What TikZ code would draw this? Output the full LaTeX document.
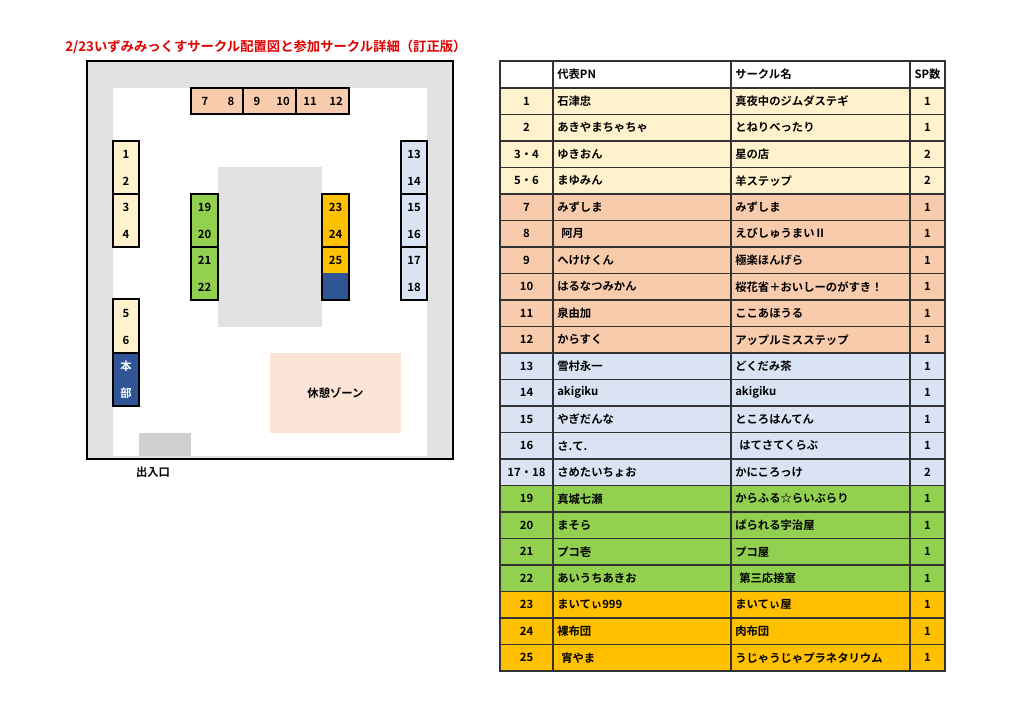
\documentclass[tikz,border=0pt]{standalone}
\usepackage{fontspec}
\setmainfont{Noto Sans CJK JP}[BoldFont={* Bold}]
\definecolor{cream}{HTML}{FFF2CC}
\definecolor{salmon}{HTML}{F8CBAD}
\definecolor{lav}{HTML}{DAE3F3}
\definecolor{grn}{HTML}{92D050}
\definecolor{org}{HTML}{FFC000}
\definecolor{navy}{HTML}{2F5597}
\definecolor{lgray}{HTML}{E2E2E2}
\definecolor{mgray}{HTML}{D0D0D0}
\definecolor{rest}{HTML}{FCE4D6}
\definecolor{ttl}{HTML}{E00000}
\begin{document}
\begin{tikzpicture}[x=0.75pt,y=-0.75pt,
  txt/.style={font=\bfseries\fontsize{8.5}{9}\selectfont,inner sep=0pt},
  box/.style={draw=black,line width=1.3pt},
  grid/.style={draw=black!80,line width=1pt}]
\useasboundingbox (0,0) rectangle (1024,720);
\fill[white] (0,0) rectangle (1024,720);
% title
\node[anchor=west,text=ttl,font=\bfseries\fontsize{10}{10}\selectfont,inner sep=0pt] (title) at (65,47) {2/23いずみみっくすサークル配置図と参加サークル詳細（訂正版）};
% map
\fill[lgray] (87,61) rectangle (453,459);
\fill[white] (113,88) rectangle (427,456);
\fill[lgray] (218,167) rectangle (322,327);
\fill[mgray] (139,433) rectangle (191,456);
\fill[rest] (270,353) rectangle (401,433);
\node[txt] (rz) at (335.5,393) {休憩ゾーン};
\draw[line width=1.3pt] (87,61) rectangle (453,459);
\node[txt] (exit) at (153,472) {出入口};
% top row 7-12
\fill[salmon] (191,88) rectangle (349,114);
\draw[box] (191,88) rectangle (243,114);
\draw[box] (243,88) rectangle (296,114);
\draw[box] (296,88) rectangle (349,114);
\foreach \n/\x in {7/205,8/231,9/257,10/283,11/310,12/336}
  \node[txt] (t\n) at (\x,101) {\n};
% left column
\fill[cream] (113,141) rectangle (139,247);
\draw[box] (113,141) rectangle (139,194);
\draw[box] (113,194) rectangle (139,247);
\fill[cream] (113,299) rectangle (139,353);
\fill[navy] (113,353) rectangle (139,406);
\draw[box] (113,299) rectangle (139,353);
\draw[box] (113,353) rectangle (139,406);
\foreach \n/\y in {1/154,2/181,3/207,4/234,5/313,6/340}
  \node[txt] (l\n) at (126,\y) {\n};
\node[txt,text=white] (hq1) at (126,366) {本};
\node[txt,text=white] (hq2) at (126,393) {部};
% green
\fill[grn] (191,194) rectangle (218,300);
\draw[box] (191,194) rectangle (218,247);
\draw[box] (191,247) rectangle (218,300);
\foreach \n/\y in {19/207,20/234,21/260,22/287}
  \node[txt] (g\n) at (204.5,\y) {\n};
% orange
\fill[org] (322,194) rectangle (349,273);
\fill[navy] (322,273) rectangle (349,300);
\draw[box] (322,194) rectangle (349,247);
\draw[box] (322,247) rectangle (349,300);
\foreach \n/\y in {23/207,24/234,25/260}
  \node[txt] (o\n) at (335.5,\y) {\n};
% right
\fill[lav] (401,141) rectangle (427,300);
\draw[box] (401,141) rectangle (427,194);
\draw[box] (401,194) rectangle (427,247);
\draw[box] (401,247) rectangle (427,300);
\foreach \n/\y in {13/154,14/181,15/207,16/234,17/260,18/287}
  \node[txt] (r\n) at (414,\y) {\n};
% table
\node[txt,anchor=west] (hA) at (557,74.5) {代表PN};
\node[txt,anchor=west] (hB) at (735,74.5) {サークル名};
\node[txt] (hC) at (927.5,74.5) {SP数};
\foreach [count=\i from 0] \n/\a/\b/\s/\c in {
 1/石津忠/真夜中のジムダステギ/1/cream,
 2/あきやまちゃちゃ/とねりべったり/1/cream,
 3・4/ゆきおん/星の店/2/cream,
 5・6/まゆみん/羊ステップ/2/cream,
 7/みずしま/みずしま/1/salmon,
 8/\hspace{3pt}阿月/えびしゅうまいⅡ/1/salmon,
 9/へけけくん/極楽ほんげら/1/salmon,
 10/はるなつみかん/桜花省＋おいしーのがすき！/1/salmon,
 11/泉由加/ここあほうる/1/salmon,
 12/からすく/アップルミスステップ/1/salmon,
 13/雪村永一/どくだみ茶/1/lav,
 14/akigiku/akigiku/1/lav,
 15/やぎだんな/ところはんてん/1/lav,
 16/さ.て./\hspace{3pt}はてさてくらぶ/1/lav,
 17・18/さめたいちょお/かにころっけ/2/lav,
 19/真城七瀬/からふる☆らいぶらり/1/grn,
 20/まそら/ぱられる宇治屋/1/grn,
 21/プコ壱/プコ屋/1/grn,
 22/あいうちあきお/\hspace{3pt}第三応接室/1/grn,
 23/まいてぃ999/まいてぃ屋/1/org,
 24/裸布団/肉布団/1/org,
 25/\hspace{3pt}宵やま/うじゃうじゃプラネタリウム/1/org}{
  \pgfmathsetmacro\yt{88+26.5*\i}
  \pgfmathsetmacro\ym{\yt+13.25}
  \fill[\c] (500,\yt) rectangle (945,\yt+26.5);
  \node[txt] (n\i) at (526.5,\ym) {\n};
  \node[txt,anchor=west] (a\i) at (557,\ym) {\a};
  \node[txt,anchor=west] (b\i) at (735,\ym) {\b};
  \node[txt] (s\i) at (927.5,\ym) {\s};
}
\foreach \i in {0,...,22} \draw[grid] (500,61+26.5*\i+27-26.5-0.5+0.5) ;
\foreach \i in {0,...,22} \draw[grid] (500,88+26.5*\i-26.5*0) -- (945,88+26.5*\i);
\draw[grid] (500,61) rectangle (945,671);
\foreach \x in {553,731,910} \draw[grid] (\x,61) -- (\x,671);
\end{tikzpicture}
\end{document}
